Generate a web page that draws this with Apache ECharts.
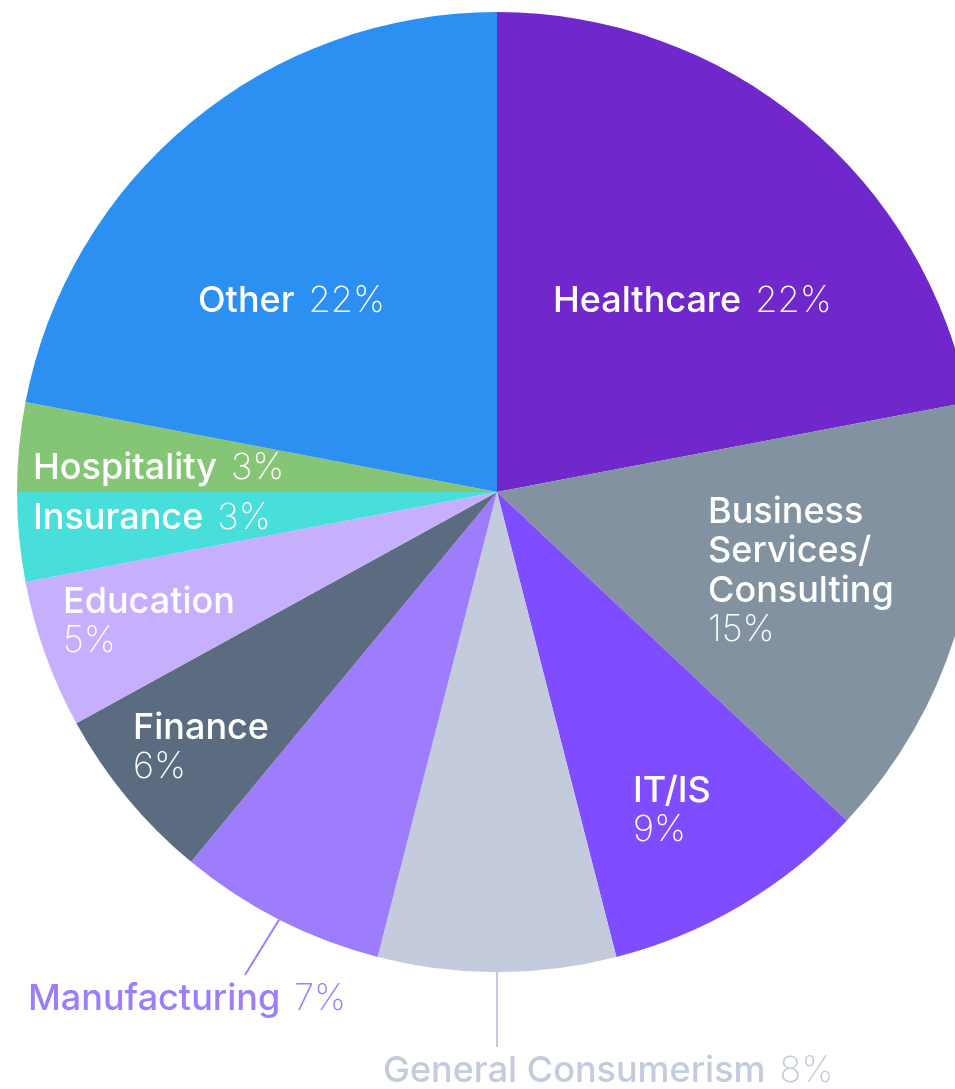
<!DOCTYPE html>
<html>
<head>
<meta charset="utf-8">
<script src="https://cdn.jsdelivr.net/npm/echarts@6/dist/echarts.min.js"></script>
<style>
  html, body { margin: 0; padding: 0; background: #fff; }
  #chart { width: 955px; height: 1089px; }
</style>
</head>
<body>
<div id="chart"></div>
<script>
// data
var categories = ['Healthcare', 'Business\nServices/\nConsulting', 'IT/IS', 'General Consumerism',
  'Manufacturing', 'Finance', 'Education', 'Insurance', 'Hospitality', 'Other'];
var shares = [22, 15, 9, 8, 7, 6, 5, 3, 3, 22];
var colors = ['#7028cc', '#8292a0', '#804cff', '#c4cbdc', '#9d7dfc',
  '#5c6c80', '#c6affc', '#48dfda', '#85c676', '#2c8ff2'];

// label placement: [x, centre of first line, percent on new line?, outside?]
var labelPos = [
  [553, 301, false, false],
  [708, 512, true, false],
  [633, 791, true, false],
  [383, 1071, false, true],
  [28, 999, false, true],
  [133, 728, true, false],
  [63, 602, true, false],
  [33, 518, false, false],
  [33, 468, false, false],
  [198, 301, false, false]
];
var leaderEnd = { 3: [497, 1047], 4: [245, 975] };
var LH = 39.5;

var chart = echarts.init(document.getElementById('chart'));

var seriesData = categories.map(function (name, i) {
  var outside = labelPos[i][3];
  var txtColor = outside ? colors[i] : '#ffffff';
  return {
    name: name,
    value: shares[i],
    itemStyle: { color: colors[i] },
    label: {
      position: outside ? 'outside' : 'inside',
      rich: {
        n: { fontSize: 36, fontWeight: 500, color: txtColor, lineHeight: LH, fontFamily: 'Inter' },
        s: { fontSize: 36, width: 14, lineHeight: LH },
        p: { fontSize: 36, fontWeight: 200, color: txtColor, lineHeight: LH, fontFamily: 'Inter' }
      }
    },
    labelLine: {
      show: outside,
      lineStyle: { color: colors[i], width: 2 }
    }
  };
});

chart.setOption({
  animation: false,
  series: [{
    type: 'pie',
    center: [497, 492],
    radius: [0, 480],
    startAngle: 90,
    clockwise: true,
    avoidLabelOverlap: false,
    data: seriesData,
    itemStyle: { borderWidth: 0 },
    label: {
      show: true,
      align: 'left',
      formatter: function (p) {
        var i = p.dataIndex;
        var lines = p.name.split('\n').map(function (s) { return '{n|' + s + '}'; });
        var pct = '{p|' + shares[i] + '%}';
        if (labelPos[i][2]) {
          lines.push(pct);
        } else {
          lines[lines.length - 1] += '{s|}' + pct;
        }
        return lines.join('\n');
      }
    },
    labelLayout: function (params) {
      var i = params.dataIndex;
      var out = {
        x: labelPos[i][0],
        y: labelPos[i][1] - LH / 2,
        align: 'left',
        verticalAlign: 'top'
      };
      if (leaderEnd[i] && params.labelLinePoints) {
        var start = params.labelLinePoints[0];
        out.labelLinePoints = [start, leaderEnd[i], leaderEnd[i]];
      }
      return out;
    }
  }]
});
</script>
</body>
</html>
